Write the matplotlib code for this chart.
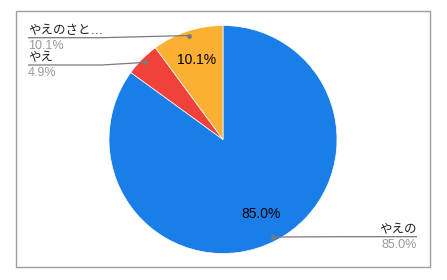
import numpy as np
import matplotlib
matplotlib.use('Agg')
import matplotlib.pyplot as plt
from matplotlib.patches import Rectangle

# ── data ─────────────────────────────────────────────────────────────────────
labels = ['やえの', 'やえ', 'やえのさと…']
values = [85.0, 4.9, 10.1]
colors = ['#1a7ee8', '#f0413a', '#fcb033']

W, H = 447, 280
FONT = ['Liberation Sans', 'Noto Sans CJK JP', 'DejaVu Sans']
plt.rcParams['font.family'] = FONT


def Y(y):
    # pixel row (top origin) -> data y
    return H - y


fig = plt.figure(figsize=(W / 100, H / 100), dpi=100)
ax = fig.add_axes([0, 0, 1, 1])

cx, cy, R = 223, Y(139.5), 114
wedges, _, autotexts = ax.pie(
    values, colors=colors, startangle=90, counterclock=False,
    center=(cx, cy), radius=R, autopct='%.1f%%', pctdistance=0.73,
    wedgeprops=dict(edgecolor='white', linewidth=0.5),
    textprops=dict(fontsize=10, color='black'))
autotexts[1].set_visible(False)

ax.set_xlim(0, W)
ax.set_ylim(0, H)
ax.set_aspect('auto')
ax.axis('off')

# frame
ax.add_patch(Rectangle((15.5, Y(267)), 414.5, 256, fill=False,
                       edgecolor='#9e9e9e', linewidth=1.0))

# ── leader labels ────────────────────────────────────────────────────────────
def dot_pos(w, frac=0.96):
    ang = np.deg2rad((w.theta1 + w.theta2) / 2)
    return cx + frac * R * np.cos(ang), cy + frac * R * np.sin(ang)

line_c = '#7a7a7a'
pct_c = '#9a9a9a'

# (wedge index, text x, text baseline, line y, bend x, align)
layout = [
    (2, 28, 34.5, 37.7, 102, 'left'),
    (1, 28, 61.5, 65.0, 102, 'left'),
    (0, 417, 233.5, 236.7, 343, 'right'),
]
for i, tx, tb, ly, bx, ha in layout:
    dx, dy = dot_pos(wedges[i])
    edge = tx
    ax.plot([edge, bx, dx], [Y(ly), Y(ly), dy], color=line_c, lw=0.9,
            solid_capstyle='butt')
    ax.plot(dx, dy, 'o', color=line_c, ms=3.5, mec='none')
    ax.text(tx, Y(tb), labels[i], ha=ha, va='baseline', fontsize=9,
            color='#222222')
    ax.text(tx, Y(tb + 14.5), f'{values[i]:.1f}%', ha=ha, va='baseline',
            fontsize=9, color=pct_c)

fig.savefig('out.png', dpi=100)
